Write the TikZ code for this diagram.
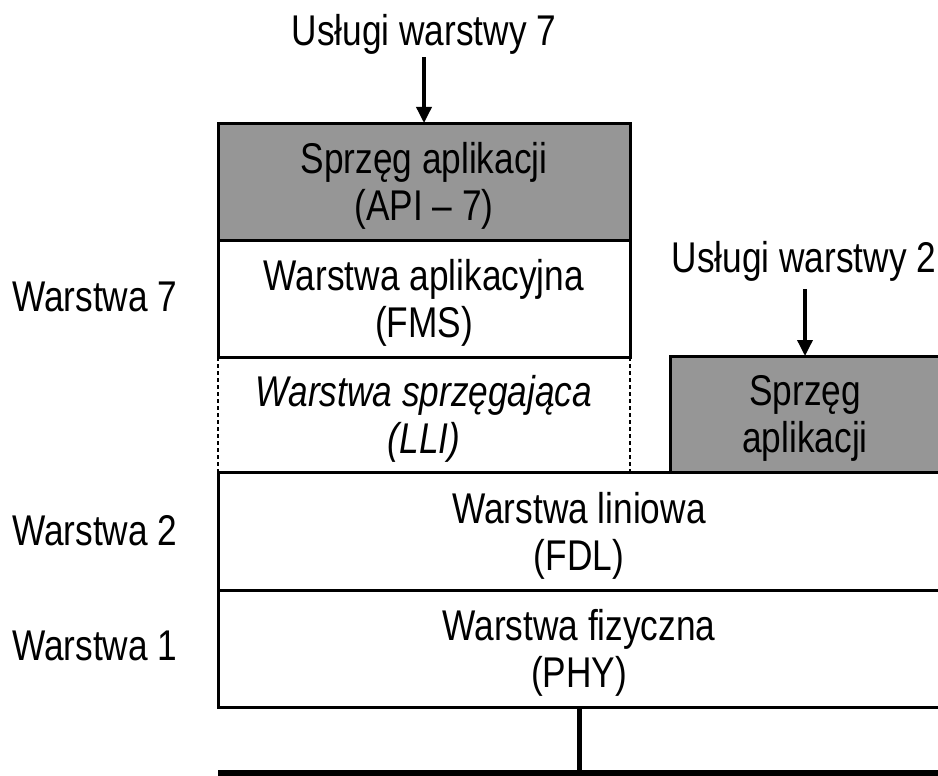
\documentclass[tikz,border=0pt]{standalone}
\usepackage{fontspec}
\setmainfont[FakeStretch=0.82]{Liberation Sans}
\usetikzlibrary{arrows.meta}
\definecolor{apigray}{RGB}{150,150,150}
\begin{document}
\begin{tikzpicture}[x=1pt,y=-1pt,
  every node/.style={font=\fontsize{43}{47}\selectfont},
  box/.style={draw, line width=3pt, rectangle, inner sep=0pt, outer sep=0pt,
    anchor=north west, align=center, text depth=0pt},
  lbl/.style={inner sep=0pt},
  arr/.style={line width=3.5pt, -{Triangle[width=15pt,length=16pt]}},
  sidedash/.style={line width=1.2pt, dash pattern=on 4pt off 3pt}
]
\useasboundingbox (0,0) rectangle (938,776);
\clip (0,0) rectangle (938,776);

% layer 7 stack
\node[box, fill=apigray, minimum width=412pt, minimum height=117pt] (api) at (218,123)
  {Sprzęg aplikacji\\(API – 7)};
\node[box, minimum width=412pt, minimum height=117pt] (fms) at (218,240)
  {Warstwa aplikacyjna\\(FMS)};
\node[box, draw=none, minimum width=412pt, minimum height=115pt,
  font=\fontsize{43}{47}\selectfont\itshape] (lli) at (218,357)
  {Warstwa sprzęgająca\\(LLI)};
\draw[sidedash] (lli.north west) -- (lli.south west);
\draw[sidedash] (lli.north east) -- (lli.south east);

% layer 2 interface
\node[box, fill=apigray, minimum width=270pt, minimum height=116pt] (sa2) at (670,356)
  {Sprzęg\\aplikacji};

% layers 2 and 1
\node[box, minimum width=722pt, minimum height=118pt] (fdl) at (218,472)
  {Warstwa liniowa\\(FDL)};
\node[box, minimum width=722pt, minimum height=117pt] (phy) at (218,590)
  {Warstwa fizyczna\\(PHY)};

% bus
\coordinate (busL) at (218,773);
\coordinate (busR) at (942,773);
\draw[line width=6pt] (busL) -- (busR);
\draw[line width=5pt] (phy.south) -- (phy.south |- busL);

% layer labels
\node[lbl, anchor=west] (w7) at (12,297) {Warstwa 7};
\node[lbl, anchor=west] (w2) at (12,531) {Warstwa 2};
\node[lbl, anchor=west] (w1) at (12,646) {Warstwa 1};

% service labels and arrows
\node[lbl, anchor=base] (t7) at (424,46) {Usługi warstwy 7};
\node[lbl, anchor=base] (t2) at (804,272) {Usługi warstwy 2};
\draw[arr] ([yshift=-2pt]t7.south -| api.north) -- (api.north);
\draw[arr] ([yshift=-8pt]t2.south -| sa2.north) -- (sa2.north);
\end{tikzpicture}
\end{document}
